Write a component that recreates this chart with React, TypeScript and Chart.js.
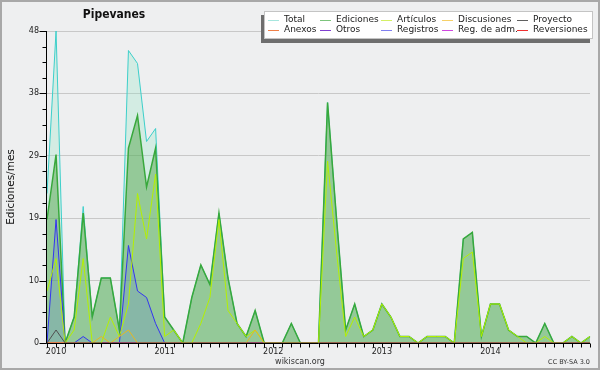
import React, { useEffect, useRef } from 'react';
import { Chart, registerables } from 'chart.js';

Chart.register(...registerables);

const months = [
  '2009-12',
  '2010-01', '2010-02', '2010-03', '2010-04', '2010-05', '2010-06', '2010-07', '2010-08', '2010-09', '2010-10', '2010-11', '2010-12',
  '2011-01', '2011-02', '2011-03', '2011-04', '2011-05', '2011-06', '2011-07', '2011-08', '2011-09', '2011-10', '2011-11', '2011-12',
  '2012-01', '2012-02', '2012-03', '2012-04', '2012-05', '2012-06', '2012-07', '2012-08', '2012-09', '2012-10', '2012-11', '2012-12',
  '2013-01', '2013-02', '2013-03', '2013-04', '2013-05', '2013-06', '2013-07', '2013-08', '2013-09', '2013-10', '2013-11', '2013-12',
  '2014-01', '2014-02', '2014-03', '2014-04', '2014-05', '2014-06', '2014-07', '2014-08', '2014-09', '2014-10', '2014-11', '2014-12',
];

const total = [
  23, 48, 0, 4, 21, 4, 10, 10, 2, 45, 43, 31, 33, 4, 2,
  0, 7, 12, 9, 20, 10, 3, 1, 5, 0,
  0, 0, 3, 0, 0, 0, 37, 19, 2, 6, 1, 2,
  6, 4, 1, 1, 0, 1, 1, 1, 0, 16, 17, 1,
  6, 6, 2, 1, 1, 0, 3, 0, 0, 1, 0, 1,
];

const ediciones = [
  19, 29, 0, 4, 20, 4, 10, 10, 2, 30, 35, 24, 30, 4, 2,
  0, 7, 12, 9, 20, 10, 3, 1, 5, 0,
  0, 0, 3, 0, 0, 0, 37, 19, 2, 6, 1, 2,
  6, 4, 1, 1, 0, 1, 1, 1, 0, 16, 17, 1,
  6, 6, 2, 1, 1, 0, 3, 0, 0, 1, 0, 1,
];

const articulos = [
  8, 13, 0, 2, 13, 0, 0, 4, 1, 6, 23, 16, 26, 1, 2,
  0, 0, 3, 7, 19, 5, 3, 1, 2, 0,
  0, 0, 0, 0, 0, 0, 28, 14, 1, 4, 1, 2,
  6, 4, 1, 1, 0, 1, 1, 1, 0, 13, 14, 1,
  6, 6, 2, 1, 0, 0, 1, 0, 0, 1, 0, 1,
];

const discusiones = [
  0, 0, 0, 0, 0, 0, 1, 0, 1, 2, 0, 0, 0, 0, 0,
  0, 0, 0, 0, 0, 0, 0, 0, 2, 0,
  0, 0, 0, 0, 0, 0, 0, 0, 0, 0, 0, 0,
  0, 0, 0, 0, 0, 0, 0, 0, 0, 0, 0, 0,
  0, 0, 0, 0, 0, 0, 0, 0, 0, 0, 0, 0,
];

const proyecto = [
  0, 2, 0, 0, 0, 0, 0, 0, 0, 0, 0, 0, 0, 0, 0,
  0, 0, 0, 0, 0, 0, 0, 0, 0, 0,
  0, 0, 0, 0, 0, 0, 0, 0, 0, 0, 0, 0,
  0, 0, 0, 0, 0, 0, 0, 0, 0, 0, 0, 0,
  0, 0, 0, 0, 0, 0, 0, 0, 0, 0, 0, 0,
];

const registros = [
  0, 19, 0, 0, 1, 0, 0, 0, 0, 15, 8, 7, 3, 0, 0,
  0, 0, 0, 0, 0, 0, 0, 0, 0, 0,
  0, 0, 0, 0, 0, 0, 0, 0, 0, 0, 0, 0,
  0, 0, 0, 0, 0, 0, 0, 0, 0, 0, 0, 0,
  0, 0, 0, 0, 0, 0, 0, 0, 0, 0, 0, 0,
];

const zeros = [
  0, 0, 0, 0, 0, 0, 0, 0, 0, 0, 0, 0, 0, 0, 0,
  0, 0, 0, 0, 0, 0, 0, 0, 0, 0,
  0, 0, 0, 0, 0, 0, 0, 0, 0, 0, 0, 0,
  0, 0, 0, 0, 0, 0, 0, 0, 0, 0, 0, 0,
  0, 0, 0, 0, 0, 0, 0, 0, 0, 0, 0, 0,
];
const anexos = zeros;
const otros = zeros;
const regAdm = zeros;
const reversiones = zeros;

const yTickValues = [0, 2.4, 4.8, 7.2, 9.6, 12, 14.4, 16.8, 19.2, 21.6, 24, 26.4, 28.8, 31.2, 33.6, 36, 38.4, 40.8, 43.2, 45.6, 48];
const yTickLabels = ['0', '10', '19', '29', '38', '48'];

const legendRows = [
  [
    { label: 'Total', color: '#a6e6de' },
    { label: 'Ediciones', color: '#7cc47c' },
    { label: 'Artículos', color: '#d4f066' },
    { label: 'Discusiones', color: '#f6d068' },
    { label: 'Proyecto', color: '#606060' },
  ],
  [
    { label: 'Anexos', color: '#f08048' },
    { label: 'Otros', color: '#8040d0' },
    { label: 'Registros', color: '#8080f0' },
    { label: 'Reg. de adm.', color: '#d048e0' },
    { label: 'Reversiones', color: '#f03030' },
  ],
];

const FONT = '"DejaVu Sans", sans-serif';

const decor = {
  id: 'decor',
  beforeDraw(chart: any) {
    const { ctx, width, height } = chart;
    ctx.save();
    ctx.fillStyle = '#eeeff0';
    ctx.fillRect(0, 0, width, height);
    ctx.restore();
  },
  afterDatasetsDraw(chart: any) {
    const { ctx, chartArea: a, scales } = chart;
    const xs = scales.x;
    const ys = scales.y;
    ctx.save();
    ctx.strokeStyle = '#000';
    ctx.lineWidth = 1;
    ctx.beginPath();
    const ax = Math.round(a.left) - 0.5;
    const ay = Math.round(a.bottom) + 0.5;
    ctx.moveTo(ax, a.top);
    ctx.lineTo(ax, ay);
    ctx.moveTo(ax, ay);
    ctx.lineTo(a.right, ay);
    ys.ticks.forEach((t: any, i: number) => {
      const py = Math.round(ys.getPixelForValue(t.value)) + 0.5;
      const len = i % 4 === 0 ? 7 : 4;
      ctx.moveTo(ax - len, py);
      ctx.lineTo(ax, py);
    });
    xs.ticks.forEach((_t: any, i: number) => {
      const px = Math.round(xs.getPixelForTick(i)) + 0.5;
      ctx.moveTo(px, ay);
      ctx.lineTo(px, ay + 4);
    });
    ctx.stroke();
    ctx.restore();
  },
  afterDraw(chart: any) {
    const { ctx, width, height, chartArea: a } = chart;
    ctx.save();
    // title
    ctx.fillStyle = '#111';
    ctx.font = 'bold 12px "DejaVu Sans Condensed", "DejaVu Sans", sans-serif';
    ctx.textAlign = 'center';
    ctx.textBaseline = 'alphabetic';
    ctx.fillText('Pipevanes', 114, 18);

    // y axis title
    ctx.save();
    ctx.translate(11, (a.top + a.bottom) / 2);
    ctx.rotate(-Math.PI / 2);
    ctx.font = '10.5px ' + FONT;
    ctx.fillStyle = '#111';
    ctx.textAlign = 'center';
    ctx.textBaseline = 'middle';
    ctx.fillText('Ediciones/mes', 0, 0);
    ctx.restore();

    // legend
    const bx = 264, by = 11, bw = 329, bh = 28;
    ctx.fillStyle = '#6e6e6e';
    ctx.fillRect(bx - 3, by + 4, bw, bh);
    ctx.fillStyle = '#ffffff';
    ctx.fillRect(bx, by, bw, bh);
    ctx.strokeStyle = '#c4c4c4';
    ctx.lineWidth = 1;
    ctx.strokeRect(bx + 0.5, by + 0.5, bw - 1, bh - 1);
    const colX = [268, 320, 381, 442, 517];
    const rowY = [19.5, 29.5];
    ctx.font = '9px ' + FONT;
    ctx.textAlign = 'left';
    ctx.textBaseline = 'middle';
    legendRows.forEach((row, r) => {
      row.forEach((item, c) => {
        const x0 = colX[c];
        const y0 = Math.round(rowY[r]) + 0.5;
        ctx.strokeStyle = item.color;
        ctx.lineWidth = 1;
        ctx.beginPath();
        ctx.moveTo(x0, y0);
        ctx.lineTo(x0 + 11, y0);
        ctx.stroke();
        ctx.fillStyle = '#222';
        ctx.fillText(item.label, x0 + 16, rowY[r]);
      });
    });

    // footer
    ctx.fillStyle = '#333';
    ctx.font = '8px ' + FONT;
    ctx.textAlign = 'center';
    ctx.textBaseline = 'middle';
    ctx.fillText('wikiscan.org', 300, 362);
    ctx.font = '6.5px ' + FONT;
    ctx.textAlign = 'right';
    ctx.fillText('CC BY-SA 3.0', 590, 362);

    // frame
    ctx.strokeStyle = '#a8a8a8';
    ctx.lineWidth = 2;
    ctx.strokeRect(1, 1, width - 2, height - 2);
    ctx.restore();
  },
};

function makeConfig(): any {
  const line = (label: string, data: number[], color: string, order: number, extra: any = {}) => ({
    label,
    data,
    borderColor: color,
    borderWidth: 1,
    pointRadius: 0,
    tension: 0,
    fill: false,
    order,
    ...extra,
  });
  return {
    type: 'line',
    data: {
      labels: months,
      datasets: [
        line('Total', total, '#3ccfca', 20, { fill: 'origin', backgroundColor: 'rgba(150,230,200,0.3)' }),
        line('Ediciones', ediciones, '#38a83c', 19, { fill: 'origin', backgroundColor: 'rgba(70,160,60,0.45)', borderWidth: 1.5 }),
        line('Registros', registros, '#3434f0', 18, { fill: 'origin', backgroundColor: 'rgba(60,80,255,0.15)' }),
        line('Anexos', anexos, '#f08048', 17),
        line('Otros', otros, '#8040d0', 16),
        line('Reg. de adm.', regAdm, '#d048e0', 15),
        line('Reversiones', reversiones, '#f03030', 14),
        line('Artículos', articulos, '#b4f000', 13),
        line('Discusiones', discusiones, '#e8b820', 12),
        line('Proyecto', proyecto, '#505050', 11),
      ],
    },
    options: {
      animation: false,
      responsive: false,
      maintainAspectRatio: false,
      layout: { padding: { left: 0, top: 31, right: 10, bottom: 0 } },
      plugins: {
        legend: { display: false },
        title: { display: false },
        tooltip: { enabled: false },
      },
      elements: { point: { radius: 0 } },
      scales: {
        x: {
          type: 'category',
          offset: false,
          grid: { display: false, drawTicks: false },
          border: { display: false },
          ticks: {
            autoSkip: false,
            maxRotation: 0,
            minRotation: 0,
            padding: 4,
            color: '#222',
            font: { family: FONT, size: 8 },
            callback: (_v: any, i: number) => (months[i].endsWith('-01') ? months[i].slice(0, 4) : ''),
          },
          afterFit: (s: any) => {
            s.height = 27;
          },
        },
        y: {
          min: 0,
          max: 48,
          afterBuildTicks: (s: any) => {
            s.ticks = yTickValues.map((v) => ({ value: v }));
          },
          grid: {
            drawTicks: false,
            lineWidth: 1,
            color: (c: any) => (c.index % 4 === 0 && c.index > 0 ? '#c8c8c8' : 'rgba(0,0,0,0)'),
          },
          border: { display: false },
          ticks: {
            autoSkip: false,
            padding: 8,
            color: '#222',
            font: { family: FONT, size: 8 },
            callback: (_v: any, i: number) => (i % 4 === 0 ? yTickLabels[i / 4] : ''),
          },
          afterFit: (s: any) => {
            s.width = 47;
          },
        },
      },
    },
    plugins: [decor],
  };
}

export default function App() {
  const ref = useRef<HTMLCanvasElement>(null);
  useEffect(() => {
    const chart = new Chart(ref.current as HTMLCanvasElement, makeConfig());
    return () => chart.destroy();
  }, []);
  return (
    <div style={{ position: 'fixed', left: 0, top: 0, width: 600, height: 370 }}>
      <canvas ref={ref} width={600} height={370} style={{ display: 'block', width: 600, height: 370 }} />
    </div>
  );
}
